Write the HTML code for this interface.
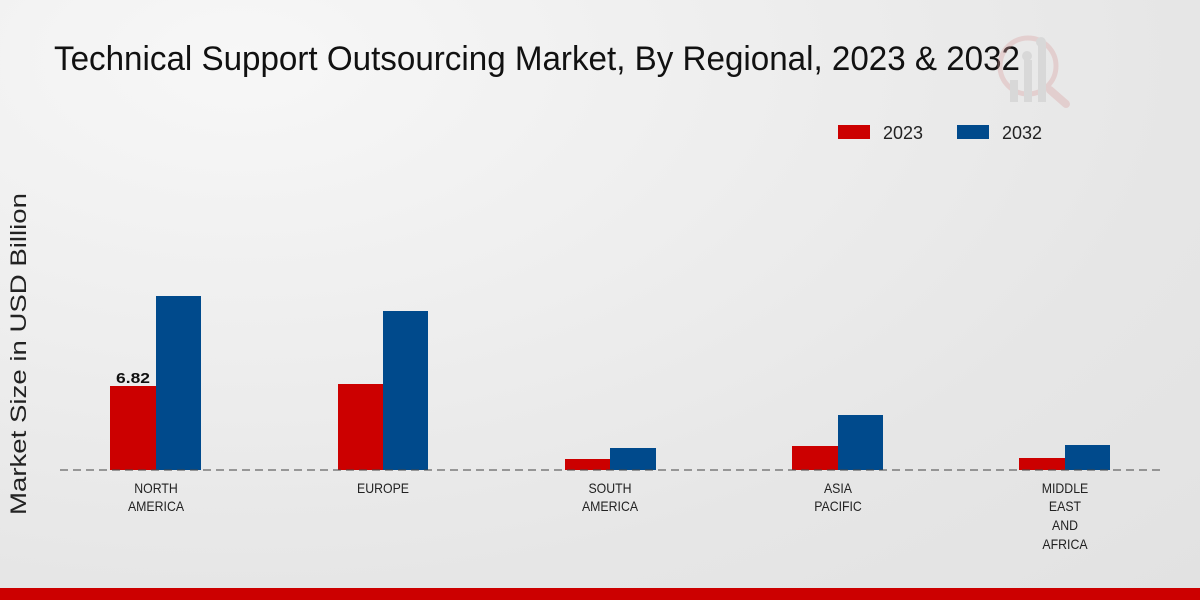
<!DOCTYPE html>
<html><head><style>
body{margin:0;width:1200px;height:600px;overflow:hidden;background:radial-gradient(ellipse at 20% 10%,#f7f7f7 0%,#e6e6e6 70%,#e2e2e2 100%);font-family:"Liberation Sans",sans-serif;}
</style></head><body>
<svg width="1200" height="600" xmlns="http://www.w3.org/2000/svg" style="position:absolute;left:0;top:0" font-family="Liberation Sans, sans-serif">
<text x="54" y="70" font-size="34" fill="#111" textLength="966" lengthAdjust="spacingAndGlyphs">Technical Support Outsourcing Market, By Regional, 2023 &amp; 2032</text>
<g opacity="0.35">
<circle cx="1028" cy="66" r="28" fill="none" stroke="#d9a0a0" stroke-width="5"/>
<rect x="1010" y="80" width="8" height="22" fill="#bbb"/><rect x="1024" y="60" width="8" height="42" fill="#bbb"/><rect x="1038" y="44" width="8" height="58" fill="#bbb"/>
<circle cx="1027" cy="56" r="5" fill="#bbb"/><circle cx="1041" cy="42" r="5" fill="#bbb"/>
<line x1="1050" y1="90" x2="1066" y2="104" stroke="#d9a0a0" stroke-width="8" stroke-linecap="round"/>
</g>
<rect x="838" y="125" width="32" height="14" fill="#cc0000"/>
<text x="883" y="139" font-size="18" fill="#222" textLength="40" lengthAdjust="spacingAndGlyphs">2023</text>
<rect x="957" y="125" width="32" height="14" fill="#004a8c"/>
<text x="1002" y="139" font-size="18" fill="#222" textLength="40" lengthAdjust="spacingAndGlyphs">2032</text>
<text transform="translate(26,354) rotate(-90)" font-size="22" fill="#222" text-anchor="middle" textLength="322" lengthAdjust="spacingAndGlyphs">Market Size in USD Billion</text>
<g fill="#cc0000">
<rect x="110" y="386" width="46" height="84"/><rect x="338" y="384" width="45" height="86"/><rect x="565" y="459" width="45" height="11"/><rect x="792" y="446" width="46" height="24"/><rect x="1019" y="458" width="46" height="12"/>
</g>
<g fill="#004a8c">
<rect x="156" y="296" width="45" height="174"/><rect x="383" y="311" width="45" height="159"/><rect x="610" y="448" width="46" height="22"/><rect x="838" y="415" width="45" height="55"/><rect x="1065" y="445" width="45" height="25"/>
</g>
<line x1="60" y1="470" x2="1160" y2="470" stroke="#444" stroke-dasharray="8,5" stroke-width="1"/>
<text x="133" y="383" font-size="15" font-weight="bold" fill="#111" text-anchor="middle" textLength="34" lengthAdjust="spacingAndGlyphs">6.82</text>
<g font-size="14" fill="#222" text-anchor="middle">
<g transform="translate(156,0) scale(0.88,1)"><text x="0" y="493">NORTH</text><text x="0" y="511">AMERICA</text></g>
<g transform="translate(383,0) scale(0.88,1)"><text x="0" y="493">EUROPE</text></g>
<g transform="translate(610,0) scale(0.88,1)"><text x="0" y="493">SOUTH</text><text x="0" y="511">AMERICA</text></g>
<g transform="translate(838,0) scale(0.88,1)"><text x="0" y="493">ASIA</text><text x="0" y="511">PACIFIC</text></g>
<g transform="translate(1065,0) scale(0.88,1)"><text x="0" y="493">MIDDLE</text><text x="0" y="511">EAST</text><text x="0" y="530">AND</text><text x="0" y="549">AFRICA</text></g>
</g>
<rect x="0" y="588" width="1200" height="12" fill="#cc0000"/>
</svg>
</body></html>
